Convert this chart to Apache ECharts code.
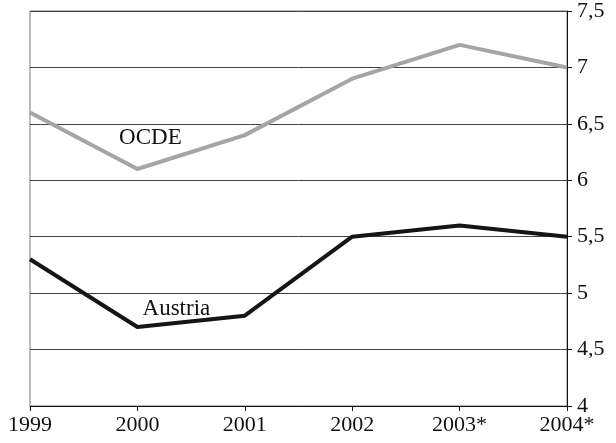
<!DOCTYPE html>
<html><head><meta charset="utf-8">
<script src="https://cdn.jsdelivr.net/npm/echarts@6/dist/echarts.min.js"></script>
<style>html,body{margin:0;padding:0;background:#fff}#c{width:616px;height:443px}</style>
</head><body><div id="c"></div>
<script>
var years = ['1999','2000','2001','2002','2003*','2004*'];
var ocde = [6.6, 6.1, 6.4, 6.9, 7.2, 7.0];
var austria = [5.3, 4.7, 4.8, 5.5, 5.6, 5.5];
var yTicks = [4, 4.5, 5, 5.5, 6, 6.5, 7, 7.5];

var FONT = '"Liberation Serif", "Times New Roman", serif';
function withLabel(arr, idx, text, offset) {
  return arr.map(function (v, i) {
    if (i !== idx) return v;
    return {value: v, label: {show: true, formatter: text, position: 'inside', offset: offset,
      color: '#111', fontFamily: FONT, fontSize: 23, align: 'center', verticalAlign: 'middle'}};
  });
}
var chart = echarts.init(document.getElementById('c'));
chart.setOption({
  animation: false,
  backgroundColor: '#fff',
  grid: {left: 30, right: 49, top: 11, bottom: 37, show: true, borderColor: '#777', borderWidth: 1, backgroundColor: 'transparent'},
  xAxis: {
    type: 'category', data: years, boundaryGap: false,
    axisLine: {show: true, lineStyle: {color: '#111', width: 1}},
    axisTick: {show: true, length: 5, lineStyle: {color: '#111'}},
    axisLabel: {color: '#111', fontFamily: FONT, fontSize: 22, margin: 8},
    splitLine: {show: false}
  },
  yAxis: {
    type: 'value', position: 'right', min: yTicks[0], max: yTicks[yTicks.length - 1], interval: 0.5,
    axisLine: {show: true, lineStyle: {color: '#111', width: 1}},
    axisTick: {show: true, length: 5, lineStyle: {color: '#111'}},
    axisLabel: {color: '#111', fontFamily: FONT, fontSize: 22, margin: 10,
      formatter: function (v) { return String(v).replace('.', ','); }},
    splitLine: {show: true, lineStyle: {color: '#444', width: 1}}
  },
  series: [
    {name: 'OCDE', type: 'line', data: withLabel(ocde, 1, 'OCDE', [13, -31]),
      symbol: 'circle', symbolSize: 1, showSymbol: true, itemStyle: {color: 'rgba(0,0,0,0)'},
      lineStyle: {color: '#a2a6a9', width: 4}},
    {name: 'Austria', type: 'line', data: withLabel(austria, 1, 'Austria', [39, -18]),
      symbol: 'circle', symbolSize: 1, showSymbol: true, itemStyle: {color: 'rgba(0,0,0,0)'},
      lineStyle: {color: '#151515', width: 4}}
  ]
});
</script></body></html>
